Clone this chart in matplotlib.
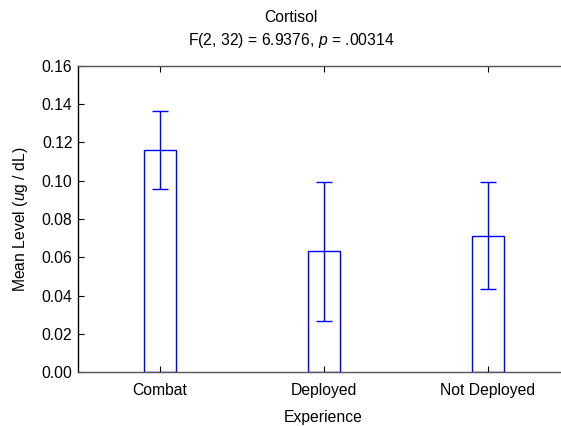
import matplotlib
matplotlib.use("Agg")
import matplotlib.pyplot as plt
import numpy as np

plt.rcParams['font.family'] = ['Liberation Sans', 'DejaVu Sans']
plt.rcParams['mathtext.fontset'] = 'custom'
plt.rcParams['mathtext.rm'] = 'Liberation Sans'
plt.rcParams['mathtext.it'] = 'Liberation Sans:italic'

categories = ["Combat", "Deployed", "Not Deployed"]
means = [0.1161, 0.0633, 0.0713]
upper = [0.1363, 0.0995, 0.0992]
lower = [0.0955, 0.0268, 0.0434]
yticks = [0.00, 0.02, 0.04, 0.06, 0.08, 0.10, 0.12, 0.14, 0.16]

FS = 11.3
W, H = 561, 426
fig = plt.figure(figsize=(W/100, H/100), dpi=100)
left_px, right_px, top_px, bot_px = 78, 570, 66, 372
ax = fig.add_axes([left_px/W, 1-bot_px/H, (right_px-left_px)/W, (bot_px-top_px)/H])

x = np.arange(len(categories))
m = np.array(means)
err = np.array([m - np.array(lower), np.array(upper) - m])
ax.bar(x, m, width=0.2, facecolor='white', edgecolor='#0000ff', linewidth=1.0)
ax.errorbar(x, m, yerr=err, fmt='none', ecolor='#0000ff', elinewidth=1.0,
            capsize=6, capthick=1.0)

ax.set_xlim(-0.5, 2.5)
ax.set_ylim(0, 0.16)
ax.set_yticks(yticks)
ax.set_yticklabels([f"{v:.2f}" for v in yticks])
ax.set_xticks(x)
ax.set_xticklabels(categories)
ax.tick_params(axis='both', direction='in', length=4, labelsize=FS, colors='black')
ax.tick_params(axis='x', top=True, pad=8)
ax.tick_params(axis='y', pad=4)
ax.spines['right'].set_visible(False)
ax.spines['left'].set_color('black')
ax.spines['bottom'].set_color('#555555')
ax.spines['top'].set_color('#555555')
for s in ax.spines.values():
    s.set_linewidth(1.0)

ax.set_xlabel("Experience", fontsize=FS)
ax.xaxis.set_label_coords((323-left_px)/(right_px-left_px), -(410-bot_px)/(bot_px-top_px))
ax.set_ylabel("Mean Level ($\\it{u}$g / dL)", fontsize=FS)
ax.yaxis.set_label_coords(-(78-30)/(right_px-left_px), 0.5)

fig.text(291/W, 1-18/H, "Cortisol", ha='center', va='center', fontsize=FS)
fig.text(291/W, 1-40/H, "F(2, 32) = 6.9376, $\\it{p}$ = .00314", ha='center', va='center', fontsize=FS)

fig.savefig("out.png", dpi=100)
